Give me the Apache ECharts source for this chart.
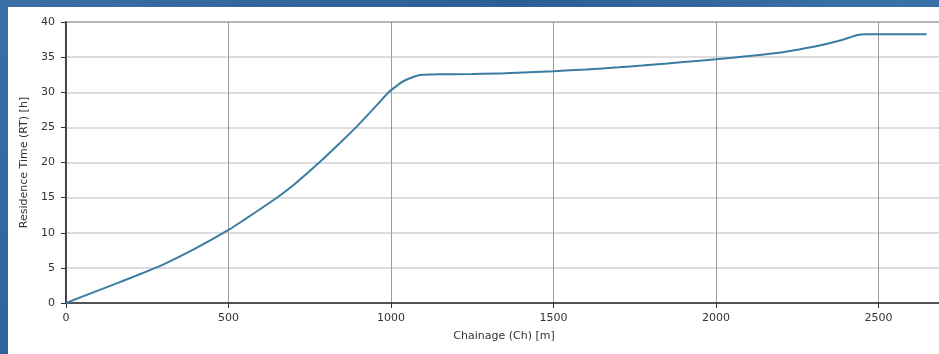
<!DOCTYPE html>
<html>
<head>
<meta charset="utf-8">
<script src="https://cdn.jsdelivr.net/npm/echarts@6/dist/echarts.min.js"></script>
<style>
html, body { margin:0; padding:0; width:939px; height:354px; overflow:hidden;
  background: linear-gradient(135deg, #3a6fa6 0%, #2c5e94 40%, #3a72a8 70%, #2a5a8e 100%); }
#chart { position:absolute; left:8px; top:7px; width:1000px; height:347px; background:#ffffff; }
</style>
</head>
<body>
<div id="chart"></div>
<script>
const chainage = [0,100,200,300,400,500,550,600,655,700,779,850,892,957,995,1020,1039,1070,1090,1150,1250,1350,1500,1600,1700,1772,1850,1950,2000,2100,2199,2255,2322,2384,2435,2460,2550,2648];
const residenceTime = [0,1.8,3.6,5.5,7.8,10.4,11.9,13.45,15.2,16.8,20.0,23.1,25.0,28.2,30.1,31.0,31.6,32.2,32.45,32.55,32.6,32.7,33.0,33.25,33.55,33.8,34.1,34.5,34.7,35.15,35.65,36.1,36.7,37.4,38.15,38.25,38.25,38.25];
const xTicks = [0,500,1000,1500,2000,2500];
const yTicks = [0,5,10,15,20,25,30,35,40];
const xName = 'Chainage (Ch) [m]';
const yName = 'Residence Time (RT) [h]';

const chart = echarts.init(document.getElementById('chart'), null, {renderer:'canvas'});
const font = 'DejaVu Sans';
chart.setOption({
  animation:false,
  grid:{left:58, right:66, top:15, bottom:51, show:true, borderColor:'#333', borderWidth:1.5, backgroundColor:'transparent'},
  xAxis:{
    type:'value', min:0, max:2695, interval:500,
    name:xName, nameLocation:'middle', nameGap:28,
    nameTextStyle:{fontFamily:font, fontSize:11, color:'#333'},
    axisLine:{show:true, lineStyle:{color:'#333', width:1.5}},
    axisTick:{show:true, length:5, lineStyle:{color:'#333', width:1}},
    axisLabel:{margin:10, fontFamily:font, fontSize:11, color:'#333',
      formatter:v => xTicks.includes(v) ? String(v) : ''},
    splitLine:{show:true, lineStyle:{color:'#9a9a9a', width:1}}
  },
  yAxis:{
    type:'value', min:0, max:40, interval:5,
    name:yName, nameLocation:'middle', nameGap:34,
    nameTextStyle:{fontFamily:font, fontSize:11, color:'#333'},
    axisLine:{show:true, lineStyle:{color:'#333', width:1.5}},
    axisTick:{show:true, length:5, lineStyle:{color:'#333', width:1}},
    axisLabel:{margin:11, fontFamily:font, fontSize:11, color:'#333',
      formatter:v => yTicks.includes(v) ? String(v) : ''},
    splitLine:{show:true, lineStyle:{color:'#d2d2d2', width:1.5}}
  },
  series:[{
    type:'line',
    data:chainage.map((c,i)=>[c, residenceTime[i]]),
    showSymbol:false,
    smooth:0.25,
    lineStyle:{color:'#3b7ca3', width:2},
    itemStyle:{color:'#3b7ca3'}
  }]
});
</script>
</body>
</html>
